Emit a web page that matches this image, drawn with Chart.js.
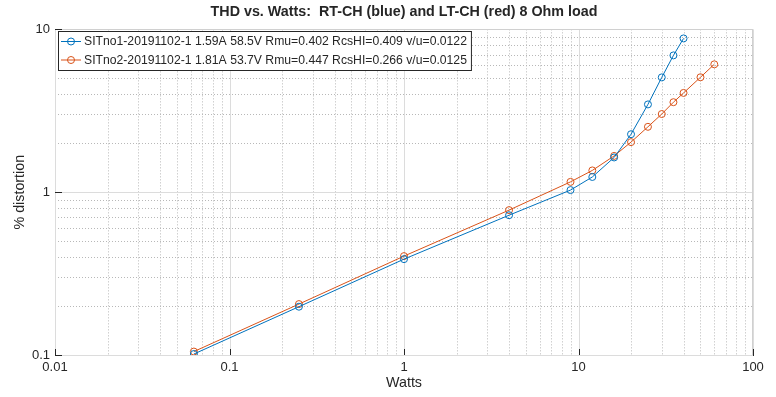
<!DOCTYPE html>
<html><head><meta charset="utf-8">
<script src="https://cdn.jsdelivr.net/npm/chart.js@4"></script>
<style>html,body{margin:0;padding:0;background:#fff}#wrap{width:776px;height:397px}</style>
</head><body><div id="wrap"><canvas id="c" width="776" height="397"></canvas></div>
<script>
const titleText = "THD vs. Watts:  RT-CH (blue) and LT-CH (red) 8 Ohm load";
const seriesLabels = [
  "SITno1-20191102-1 1.59A 58.5V Rmu=0.402 RcsHI=0.409 v/u=0.0122",
  "SITno2-20191102-1 1.81A 53.7V Rmu=0.447 RcsHI=0.266 v/u=0.0125"
];
const blueWatts = [0.0625, 0.25, 1, 4, 9, 12, 16, 20, 25, 30, 35, 40];
const blueTHD   = [0.1014, 0.198, 0.388, 0.722, 1.03, 1.24, 1.634, 2.27, 3.46, 5.07, 6.92, 8.8];
const redWatts  = [0.0625, 0.25, 1, 4, 9, 12, 16, 20, 25, 30, 35, 40, 50, 60];
const redTHD    = [0.105, 0.2055, 0.405, 0.776, 1.157, 1.36, 1.67, 2.03, 2.52, 3.02, 3.57, 4.07, 5.08, 6.1];
const xMajorTicks = [0.01, 0.1, 1, 10, 100];
const yMajorTicks = [0.1, 1, 10];
const xTickLabels = ["0.01", "0.1", "1", "10", "100"];
const yTickLabels = ["0.1", "1", "10"];

const BLUE = '#0072BD', RED = '#D95319', TXT = '#262626';
const FAM = '"Liberation Sans", Arial, sans-serif';

function logTicks(majors) {
  const out = [];
  for (let i = 0; i < majors.length; i++) {
    const m = majors[i];
    out.push({value: m});
    if (i < majors.length - 1) for (let k = 2; k <= 9; k++) out.push({value: +(m * k).toPrecision(6)});
  }
  return out;
}
function labelFor(v, majors, labels) {
  for (let i = 0; i < majors.length; i++) if (Math.abs(v - majors[i]) < majors[i] * 1e-6) return labels[i];
  return '';
}
function isMajor(v, majors) { return majors.some(m => Math.abs(v - m) < m * 1e-6); }

const toPts = (xs, ys) => xs.map((x, i) => ({x: x, y: ys[i]}));

const gridPlugin = {
  id: 'mgrid',
  afterLayout(chart) {
    const tb = chart.titleBlock, a = chart.chartArea;
    if (tb) { tb.left = a.left; tb.right = a.right; }
  },
  beforeDatasetsDraw(chart) {
    const {ctx, chartArea: a, scales: {x, y}} = chart;
    ctx.save();
    ctx.lineWidth = 1;
    ctx.strokeStyle = '#b8b8b8';
    ctx.setLineDash([1, 2]);
    x.ticks.forEach(t => { if (!isMajor(t.value, xMajorTicks)) { const p = Math.round(x.getPixelForValue(t.value)) + 0.5; ctx.beginPath(); ctx.moveTo(p, a.top); ctx.lineTo(p, a.bottom); ctx.stroke(); } });
    y.ticks.forEach(t => { if (!isMajor(t.value, yMajorTicks)) { const p = Math.round(y.getPixelForValue(t.value)) + 0.5; ctx.beginPath(); ctx.moveTo(a.left, p); ctx.lineTo(a.right, p); ctx.stroke(); } });
    ctx.setLineDash([]);
    ctx.strokeStyle = '#dcdcdc';
    x.ticks.forEach(t => { if (isMajor(t.value, xMajorTicks)) { const p = Math.round(x.getPixelForValue(t.value)) + 0.5; ctx.beginPath(); ctx.moveTo(p, a.top); ctx.lineTo(p, a.bottom); ctx.stroke(); } });
    y.ticks.forEach(t => { if (isMajor(t.value, yMajorTicks)) { const p = Math.round(y.getPixelForValue(t.value)) + 0.5; ctx.beginPath(); ctx.moveTo(a.left, p); ctx.lineTo(a.right, p); ctx.stroke(); } });
    ctx.strokeStyle = '#d0d0d0';
    ctx.beginPath();
    ctx.moveTo(a.left, Math.round(a.top) + 0.5); ctx.lineTo(a.right, Math.round(a.top) + 0.5);
    ctx.moveTo(Math.round(a.right) - 0.5, a.top); ctx.lineTo(Math.round(a.right) - 0.5, a.bottom);
    ctx.stroke();
    ctx.strokeStyle = TXT;
    ctx.beginPath();
    xMajorTicks.forEach(v => { const p = Math.round(x.getPixelForValue(v)) + 0.5; ctx.moveTo(p, a.bottom); ctx.lineTo(p, a.bottom - 6); });
    yMajorTicks.forEach(v => { const p = Math.round(y.getPixelForValue(v)) + 0.5; ctx.moveTo(a.left, p); ctx.lineTo(a.left + 7, p); });
    ctx.stroke();
    ctx.restore();
  },
  afterDraw(chart) {
    const {ctx} = chart;
    const ds = chart.data.datasets;
    ctx.save();
    ctx.font = '12.2px ' + FAM;
    const w = Math.max(...ds.map(d => ctx.measureText(d.label).width));
    const bx = 58.5, by = 31.5, bw = 26 + w + 4, bh = 39;
    ctx.fillStyle = '#fff';
    ctx.fillRect(bx, by, bw, bh);
    ctx.strokeStyle = TXT; ctx.lineWidth = 1;
    ctx.strokeRect(bx, by, bw, bh);
    ds.forEach((d, i) => {
      const yy = 41.5 + i * 18.5;
      ctx.strokeStyle = d.borderColor; ctx.lineWidth = 1;
      ctx.beginPath(); ctx.moveTo(61, yy); ctx.lineTo(81, yy); ctx.stroke();
      ctx.beginPath(); ctx.arc(71, yy, 3.5, 0, Math.PI * 2); ctx.stroke();
      ctx.fillStyle = TXT; ctx.textBaseline = 'middle'; ctx.textAlign = 'left';
      ctx.fillText(d.label, 84, yy + 0.5);
    });
    ctx.restore();
  }
};

new Chart(document.getElementById('c'), {
  type: 'scatter',
  data: {
    datasets: [
      {label: seriesLabels[0], data: toPts(blueWatts, blueTHD), borderColor: BLUE, backgroundColor: 'rgba(0,0,0,0)', showLine: true, borderWidth: 1, pointRadius: 3.5, pointBorderWidth: 1, pointStyle: 'circle', pointHoverRadius: 3.5},
      {label: seriesLabels[1], data: toPts(redWatts, redTHD), borderColor: RED, backgroundColor: 'rgba(0,0,0,0)', showLine: true, borderWidth: 1, pointRadius: 3.5, pointBorderWidth: 1, pointStyle: 'circle', pointHoverRadius: 3.5}
    ]
  },
  options: {
    responsive: false,
    animation: false,
    devicePixelRatio: 1,
    layout: {padding: {left: 0, right: 23, top: 0, bottom: 0}},
    plugins: {
      legend: {display: false},
      tooltip: {enabled: false},
      title: {display: true, text: titleText, color: TXT, font: {family: FAM, size: 14.3, weight: 'bold'}, padding: {top: 3.3, bottom: 8.9}}
    },
    scales: {
      x: {
        type: 'logarithmic', min: 0.01, max: 100,
        afterBuildTicks: s => { s.ticks = logTicks(xMajorTicks); },
        afterFit: s => { s.height = 42; },
        grid: {display: false, drawTicks: false},
        border: {display: true, color: TXT, width: 1},
        ticks: {autoSkip: false, maxRotation: 0, padding: 5, color: TXT, font: {family: FAM, size: 13}, callback: v => labelFor(v, xMajorTicks, xTickLabels)},
        title: {display: true, text: 'Watts', color: TXT, font: {family: FAM, size: 14.3}, padding: {top: 0, bottom: 5.4}}
      },
      y: {
        type: 'logarithmic', min: 0.1, max: 10,
        afterBuildTicks: s => { s.ticks = logTicks(yMajorTicks); },
        afterFit: s => { s.width = 55; },
        grid: {display: false, drawTicks: false},
        border: {display: true, color: TXT, width: 1},
        ticks: {autoSkip: false, padding: 5, color: TXT, font: {family: FAM, size: 13}, callback: v => labelFor(v, yMajorTicks, yTickLabels)},
        title: {display: true, text: '% distortion', color: TXT, font: {family: FAM, size: 14.3}, padding: {top: 11.4, bottom: 0}}
      }
    }
  },
  plugins: [gridPlugin]
});
</script>
</body></html>
